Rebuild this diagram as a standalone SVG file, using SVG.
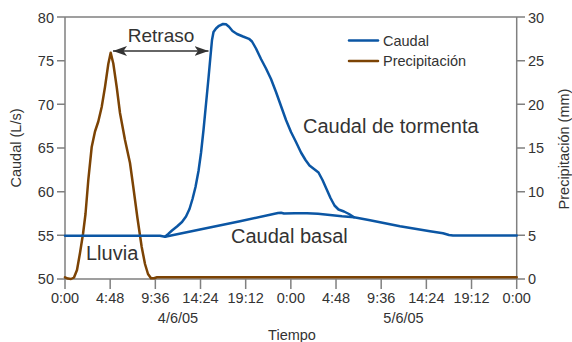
<svg xmlns="http://www.w3.org/2000/svg" width="572" height="342" viewBox="0 0 572 342">
<style>
text{font-family:"Liberation Sans",Arial,sans-serif;fill:#333}
.tk{font-size:14.5px}
.big{font-size:20px}
.ax{stroke:#808080;stroke-width:1.5;fill:none}
.blue{stroke:#0b56a4;stroke-width:2.5;fill:none;stroke-linejoin:round;stroke-linecap:round}
.brown{stroke:#7c4304;stroke-width:2.5;fill:none;stroke-linejoin:round;stroke-linecap:round}
</style>
<defs>
<marker id="ah" viewBox="0 0 14 10" refX="14" refY="5" markerWidth="14" markerHeight="10" markerUnits="userSpaceOnUse" orient="auto-start-reverse">
<path d="M0,0 L14,5 L0,10 L3.5,5 Z" fill="#333"/>
</marker>
</defs>
<rect width="572" height="342" fill="#fff"/>
<g id="axes">
<path class="ax" d="M57,17 H525 M65,17 V289 M516.7,17 V289 M65,279 H516.7"/>
<path class="ax" d="M57,60.67 H65 M57,104.33 H65 M57,148 H65 M57,191.67 H65 M57,235.33 H65 M57,279 H65"/>
<path class="ax" d="M516.7,60.67 H525 M516.7,104.33 H525 M516.7,148 H525 M516.7,191.67 H525 M516.7,235.33 H525 M516.7,279 H525"/>
<path class="ax" d="M110.17,279 V289 M155.34,279 V289 M200.51,279 V289 M245.68,279 V289 M290.85,279 V289 M336.02,279 V289 M381.19,279 V289 M426.36,279 V289 M471.53,279 V289"/>
<g class="tk" text-anchor="end">
<text x="54" y="22.5">80</text>
<text x="54" y="66">75</text>
<text x="54" y="109.5">70</text>
<text x="54" y="153">65</text>
<text x="54" y="197">60</text>
<text x="54" y="240.5">55</text>
<text x="54" y="284">50</text>
</g>
<g class="tk">
<text x="528" y="22.5">30</text>
<text x="528" y="66">25</text>
<text x="528" y="109.5">20</text>
<text x="528" y="153">15</text>
<text x="528" y="197">10</text>
<text x="528" y="240.5">5</text>
<text x="528" y="284">0</text>
</g>
<g class="tk" text-anchor="middle">
<text x="65" y="302.5">0:00</text>
<text x="110.17" y="302.5">4:48</text>
<text x="155.34" y="302.5">9:36</text>
<text x="200.51" y="302.5">14:24</text>
<text x="245.68" y="302.5">19:12</text>
<text x="290.85" y="302.5">0:00</text>
<text x="336.02" y="302.5">4:48</text>
<text x="381.19" y="302.5">9:36</text>
<text x="426.36" y="302.5">14:24</text>
<text x="471.53" y="302.5">19:12</text>
<text x="516.7" y="302.5">0:00</text>
<text x="178" y="322.5">4/6/05</text>
<text x="403.5" y="322.5">5/6/05</text>
<text x="292" y="339.5">Tiempo</text>
<text transform="translate(20.5,148) rotate(-90)">Caudal (L/s)</text>
<text transform="translate(568.5,149) rotate(-90)">Precipitación (mm)</text>
</g>
</g>
<g id="legend">
<line class="blue" x1="349" y1="40.5" x2="378" y2="40.5" stroke-linecap="butt"/>
<line class="brown" x1="349" y1="61" x2="378" y2="61" stroke-linecap="butt"/>
<text class="tk" x="383" y="45.5">Caudal</text>
<text class="tk" x="383" y="66">Precipitación</text>
</g>
<g id="connectors">
<path id="precipitacion" class="brown" d="M65,277.3 L68,278.6 L71,279 L74,277.5 L77,270 L80,253 L83,234 L85.5,214 L88.3,180 L91.7,147 L95,131.5 L98.3,121.5 L101.7,107 L105,87 L108.3,64 L110.7,52.7 L113.3,63.5 L116.7,87 L120,113 L125,140 L130,163 L133.3,187 L137.3,217 L141.7,247 L145,264 L148,274 L151,278.3 L154,278.2 L157,277.2 L516.7,277.2"/>
<path id="caudal-tormenta" class="blue" d="M65,235.7 L160,235.7 L165,236.8 L168,234.2 L172,230.5 L177,226.5 L182,222 L186,216.5 L189.5,209 L192.5,199 L195.5,187 L198.5,171 L201,153 L203.5,130 L206,104 L208.5,78 L210.5,56 L212,40 L213.5,32 L216,28.5 L219,25.8 L223,24 L226,24.3 L229,26.8 L232.5,31 L237,34 L243,36.5 L249,38.8 L252,41.5 L256,48.5 L261,59 L266,68.5 L271,79 L276,92 L281,106 L286,120 L291,132 L296,142 L301,152.5 L305.5,160 L309.5,165.5 L314,169 L318.5,172.5 L322.5,180 L326.5,189 L330.5,198 L334.5,205.5 L338.5,209.5 L344,211.5 L349,214 L354,217.3 L370,220.2 L385,223.2 L400,226.3 L415,228.8 L430,231.3 L443,233.3 L449,235 L453,235.6 L460,235.4 L516.7,235.4"/>
<path id="caudal-basal" class="blue" d="M165,236.8 L200,229.5 L240,221.3 L278,213 L281,212.7 L284,213.5 L295,213.3 L307,213.2 L318,213.8 L330,215 L342,216.3 L354,217.3"/>
<line id="retraso-arrow" x1="113" y1="51" x2="208.5" y2="51" stroke="#333" stroke-width="1.5" marker-start="url(#ah)" marker-end="url(#ah)"/>
</g>
<g id="labels">
<text class="big" x="161" y="42" text-anchor="middle" style="font-size:19px">Retraso</text>
<text class="big" x="303" y="132.5">Caudal de tormenta</text>
<text class="big" x="231" y="242.5">Caudal basal</text>
<text class="big" x="86" y="259.5">Lluvia</text>
</g>
</svg>
